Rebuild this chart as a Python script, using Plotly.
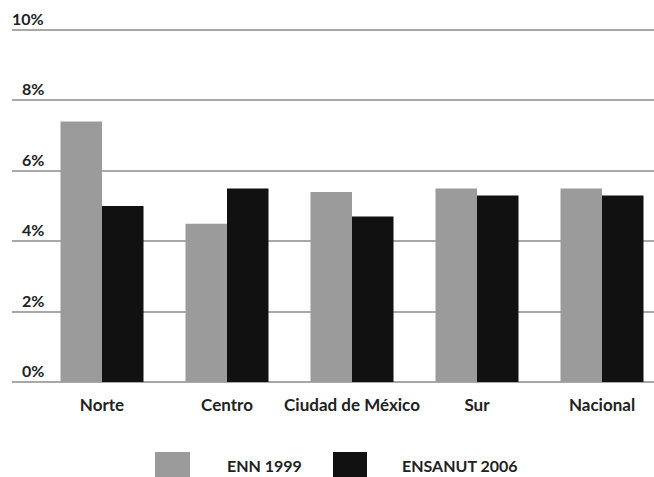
import plotly.graph_objects as go

categories = ["Norte", "Centro", "Ciudad de México", "Sur", "Nacional"]
enn_1999 = [7.4, 4.5, 5.4, 5.5, 5.5]
ensanut_2006 = [5.0, 5.5, 4.7, 5.3, 5.3]
series_names = ["ENN 1999", "ENSANUT 2006"]
y_ticks = [0, 2, 4, 6, 8, 10]
y_tick_labels = ["0%", "2%", "4%", "6%", "8%", "10%"]

W, H = 654, 477
ML, MR, MT, MB = 12, 0, 29, 95
GRAY = "#9b9b9b"
BLACK = "#111111"
FONT = "Lato"
TXT = "#222222"

fig = go.Figure()
fig.add_trace(go.Bar(x=categories, y=enn_1999, name=series_names[0],
                     marker=dict(color=GRAY, line=dict(width=0))))
fig.add_trace(go.Bar(x=categories, y=ensanut_2006, name=series_names[1],
                     marker=dict(color=BLACK, line=dict(width=0))))

def px_x(p):
    return (p - ML) / (W - ML - MR)

def px_y(p):
    return 1 - (p - MT) / (H - MT - MB)

annotations = []
for v, lab in zip(y_ticks, y_tick_labels):
    annotations.append(dict(x=px_x(46), xref="paper", y=v, yref="y",
                            text=lab, showarrow=False, xanchor="right", yanchor="bottom",
                            yshift=0,
                            font=dict(family=FONT, size=16, color=TXT, weight="bold")))

shapes = []
legend_items = [(155, 190, GRAY, 225, series_names[0]), (333, 367, BLACK, 400, series_names[1])]
for x0, x1, col, tx, name in legend_items:
    shapes.append(dict(type="rect", xref="paper", yref="paper",
                       x0=px_x(x0), x1=px_x(x1), y0=px_y(477), y1=px_y(452),
                       fillcolor=col, line=dict(width=0)))
    annotations.append(dict(x=px_x(tx), xref="paper", y=px_y(465), yref="paper",
                            text=name, showarrow=False, xanchor="left", yanchor="middle",
                            font=dict(family=FONT, size=16, color=TXT, weight="bold")))

fig.update_layout(
    width=W, height=H,
    margin=dict(l=ML, r=MR, t=MT, b=MB),
    paper_bgcolor="white", plot_bgcolor="white",
    barmode="group", bargap=0.336, bargroupgap=0,
    showlegend=False,
    font=dict(family=FONT, color=TXT),
    xaxis=dict(type="category", range=[-0.72, 4.416], showgrid=False, zeroline=False,
               showline=False, ticks="", ticklabelstandoff=11,
               tickfont=dict(family=FONT, size=17, color=TXT, weight="bold")),
    yaxis=dict(range=[0, 10.03], tickvals=y_ticks, showticklabels=False, showgrid=True,
               gridcolor="#a8a8a8", gridwidth=2, zeroline=True, zerolinecolor="#a8a8a8",
               zerolinewidth=2, showline=False),
    annotations=annotations,
    shapes=shapes,
)

fig.write_html("out.html", config={"displayModeBar": False},
               post_script="document.body.style.margin='0';document.body.style.overflow='hidden';")
